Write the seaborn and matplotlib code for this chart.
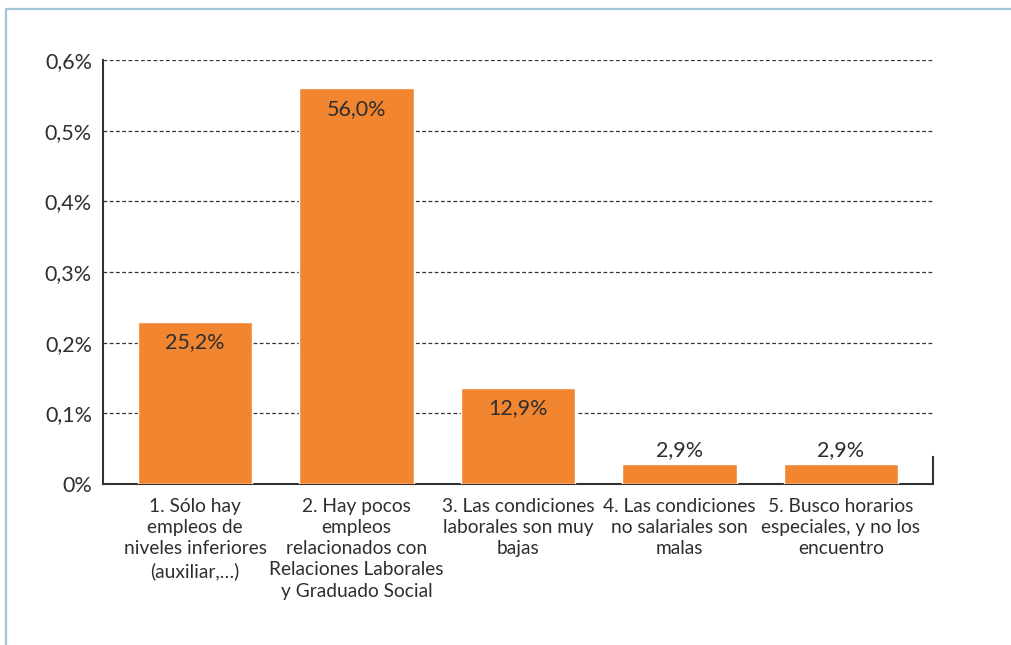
import matplotlib
matplotlib.use("Agg")
import matplotlib.pyplot as plt
from matplotlib.lines import Line2D
import seaborn as sns
import pandas as pd

categories = [
    "1. Sólo hay\nempleos de\nniveles inferiores\n(auxiliar,…)",
    "2. Hay pocos\nempleos\nrelacionados con\nRelaciones Laborales\ny Graduado Social",
    "3. Las condiciones\nlaborales son muy\nbajas",
    "4. Las condiciones\nno salariales son\nmalas",
    "5. Busco horarios\nespeciales, y no los\nencuentro",
]
values = [0.229, 0.560, 0.136, 0.028, 0.028]
value_labels = ["25,2%", "56,0%", "12,9%", "2,9%", "2,9%"]
yticks = [0, 0.1, 0.2, 0.3, 0.4, 0.5, 0.6]
ytick_labels = ["0%", "0,1%", "0,2%", "0,3%", "0,4%", "0,5%", "0,6%"]

sns.set_theme(style="white")
plt.rcParams["font.family"] = ["Lato", "DejaVu Sans"]

TEXT = "#2e2e2e"
ORANGE = "#F28530"

fig = plt.figure(figsize=(10.11, 6.45), dpi=100)
ax = fig.add_axes([103 / 1011, 161 / 645, 830 / 1011, 424 / 645])

df = pd.DataFrame({"cat": categories, "val": values})
sns.barplot(data=df, x="cat", y="val", color=ORANGE, width=0.707,
            saturation=1, ax=ax, zorder=3)

ax.set_xlim(-0.57, 4.57)
ax.set_ylim(0, 0.6)
ax.set_yticks(yticks)
ax.set_yticklabels(ytick_labels, fontsize=15.5, color=TEXT)
ax.set_xticks(range(len(categories)))
ax.set_xticklabels(categories, fontsize=13.8, color=TEXT, linespacing=1.3)
ax.set_xlabel("")
ax.set_ylabel("")
ax.tick_params(axis="both", length=0)
ax.tick_params(axis="x", pad=10)
ax.tick_params(axis="y", pad=8)

for y in yticks[1:]:
    ax.axhline(y, color="#333333", linestyle=(0, (3, 2)), linewidth=0.9, zorder=1)

ax.spines["top"].set_visible(False)
for s in ["left", "bottom", "right"]:
    ax.spines[s].set_color("#333333")
    ax.spines[s].set_linewidth(1.5)
ax.spines["right"].set_bounds(0, 0.038)

for i, (v, lab) in enumerate(zip(values, value_labels)):
    if v > 0.1:
        ax.annotate(lab, (i, v), xytext=(0, -7.5), textcoords="offset points",
                    ha="center", va="top", fontsize=15.5, color=TEXT, zorder=4)
    else:
        ax.annotate(lab, (i, v), xytext=(0, 3), textcoords="offset points",
                    ha="center", va="bottom", fontsize=15.5, color=TEXT, zorder=4)

frame_c = "#a3c6d6"
fig.add_artist(Line2D([6 / 1011, 1.0], [1 - 8.5 / 645] * 2, color=frame_c, lw=1.6,
                      transform=fig.transFigure))
fig.add_artist(Line2D([6 / 1011] * 2, [0, 1 - 8.5 / 645], color=frame_c, lw=1.6,
                      transform=fig.transFigure))

fig.savefig("out.png", dpi=100)
